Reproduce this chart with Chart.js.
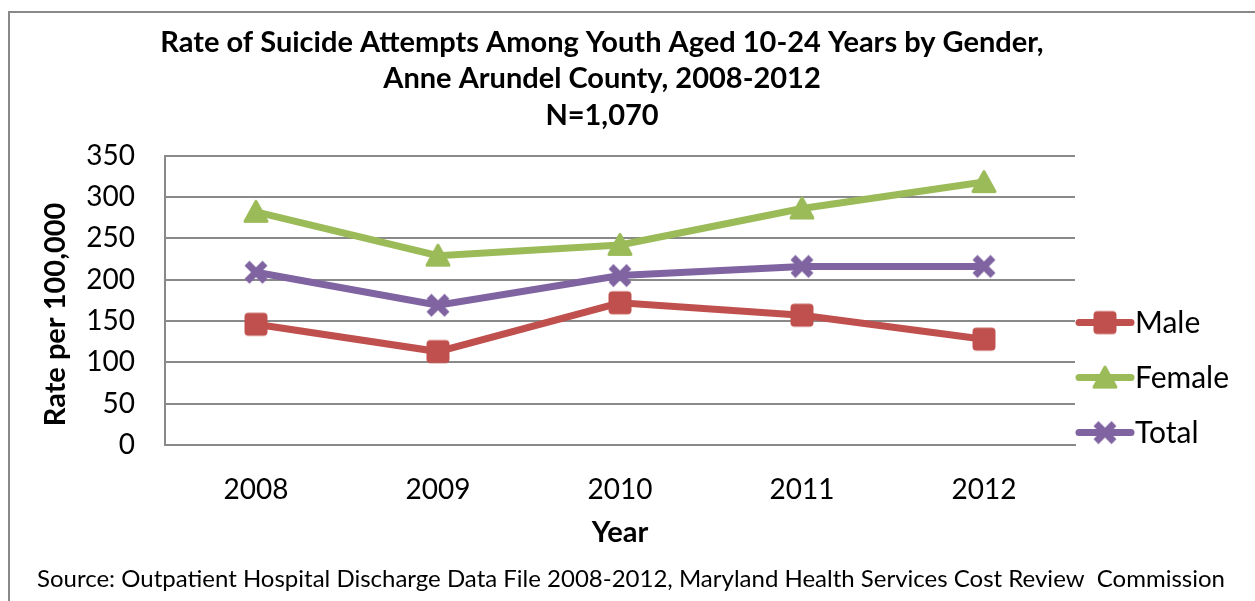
<!DOCTYPE html>
<html>
<head>
<meta charset="utf-8">
<script src="https://cdn.jsdelivr.net/npm/chart.js@4"></script>
<style>
  html, body { margin: 0; padding: 0; background: #fff; }
  canvas { display: block; }
</style>
</head>
<body>
<canvas id="rateChart" width="1255" height="601"></canvas>
<script>
var years = ['2008', '2009', '2010', '2011', '2012'];
var male = [146, 113, 172, 157, 128];
var female = [282, 229, 242, 286, 318];
var total = [209, 169, 205, 216, 216];

var titleLines = [
    'Rate of Suicide Attempts Among Youth Aged 10-24 Years by Gender,',
    'Anne Arundel County, 2008-2012',
    'N=1,070'
];
var sourceNote = 'Source: Outpatient Hospital Discharge Data File 2008-2012, Maryland Health Services Cost Review  Commission';

var FONT = 'Lato, "Open Sans", sans-serif';
var GRID = '#898989';

Chart.defaults.font.family = FONT;
Chart.defaults.color = '#000';

// marker images: rounded square, rounded triangle, thick x
function makeMarker(kind, color) {
    var cv = document.createElement('canvas');
    cv.width = 28;
    cv.height = 28;
    var c = cv.getContext('2d');
    c.fillStyle = color;
    c.strokeStyle = color;
    if (kind === 'square') {
        c.beginPath();
        c.roundRect(2.5, 2.5, 23, 23, 4);
        c.fill();
    } else if (kind === 'triangle') {
        c.lineWidth = 3;
        c.lineJoin = 'round';
        c.beginPath();
        c.moveTo(14, 3.5);
        c.lineTo(25, 23.5);
        c.lineTo(3, 23.5);
        c.closePath();
        c.fill();
        c.stroke();
    } else {
        c.lineWidth = 7;
        c.beginPath();
        c.moveTo(5, 5);
        c.lineTo(23, 23);
        c.moveTo(23, 5);
        c.lineTo(5, 23);
        c.stroke();
    }
    return cv;
}

// white page with the thin grey frame round the chart
var frame = {
    id: 'frame',
    beforeDraw: function(chart) {
        var c = chart.ctx;
        c.save();
        c.fillStyle = '#fff';
        c.fillRect(0, 0, chart.width, chart.height);
        c.strokeStyle = GRID;
        c.lineWidth = 2;
        c.strokeRect(9, 12, chart.width + 50, chart.height + 50);
        c.restore();
    }
};

// legend to the right (short line + marker + name) and the source line underneath
var sideLegend = {
    id: 'sideLegend',
    afterDraw: function(chart) {
        var c = chart.ctx;
        var area = chart.chartArea;
        c.save();
        chart.data.datasets.forEach(function(ds, i) {
            var y = area.top + 167 + i * 55;
            var x0 = area.right + 4;
            var x1 = x0 + 52;
            c.strokeStyle = ds.borderColor;
            c.lineWidth = ds.borderWidth;
            c.lineCap = 'round';
            c.beginPath();
            c.moveTo(x0, y);
            c.lineTo(x1, y);
            c.stroke();
            var img = ds.pointStyle;
            c.drawImage(img, (x0 + x1) / 2 - img.width / 2, y - img.height / 2);
            c.fillStyle = '#000';
            c.font = '30px ' + FONT;
            c.textAlign = 'left';
            c.textBaseline = 'middle';
            c.fillText(ds.label, x1 + 4, y + 1);
        });
        c.font = '24px ' + FONT;
        c.textAlign = 'center';
        c.textBaseline = 'middle';
        c.fillText(sourceNote, 631, chart.height - 22);
        c.restore();
    }
};

function series(label, data, color, kind) {
    return {
        label: label,
        data: data,
        borderColor: color,
        backgroundColor: color,
        borderWidth: 7,
        pointStyle: makeMarker(kind, color),
        pointRadius: 12,
        pointHoverRadius: 12,
        tension: 0,
        yAxisID: 'y'
    };
}

new Chart(document.getElementById('rateChart'), {
    type: 'line',
    data: {
        labels: years,
        datasets: [
            series('Male', male, '#C0504D', 'square'),
            series('Female', female, '#9BBB59', 'triangle'),
            series('Total', total, '#8064A2', 'x')
        ]
    },
    options: {
        responsive: false,
        animation: false,
        layout: { padding: { top: 0, right: 60, left: 9, bottom: 37 } },
        plugins: {
            legend: { display: false },
            tooltip: { enabled: false },
            title: {
                display: true,
                text: titleLines,
                font: { size: 29, weight: 'bold', lineHeight: 1.26 },
                padding: { top: 24, bottom: 22 }
            }
        },
        scales: {
            x: {
                offset: true,
                grid: { display: false },
                border: { display: true, color: GRID, width: 2 },
                ticks: { font: { size: 28 }, padding: 20 },
                title: {
                    display: true,
                    text: 'Year',
                    font: { size: 29, weight: 'bold' },
                    padding: { top: 0, bottom: 14 }
                },
                afterFit: function(s) { s.height = 119; }
            },
            y: {
                min: 0,
                max: 350,
                ticks: { stepSize: 50, font: { size: 28 }, padding: 30 },
                grid: { color: GRID, lineWidth: 2, drawTicks: false },
                border: { display: true, color: GRID, width: 2 },
                title: {
                    display: true,
                    // trailing spaces push the rotated title a little below centre
                    text: 'Rate per 100,000    ',
                    font: { size: 29, weight: 'bold' },
                    padding: { top: 29, bottom: 0 }
                },
                afterFit: function(s) { s.width = 156; }
            },
            // room kept on the right for the legend
            legendRoom: {
                type: 'linear',
                position: 'right',
                display: true,
                grid: { display: false },
                border: { display: false },
                ticks: { display: false },
                afterFit: function(s) { s.width = 120; }
            }
        }
    },
    plugins: [frame, sideLegend]
});
</script>
</body>
</html>
